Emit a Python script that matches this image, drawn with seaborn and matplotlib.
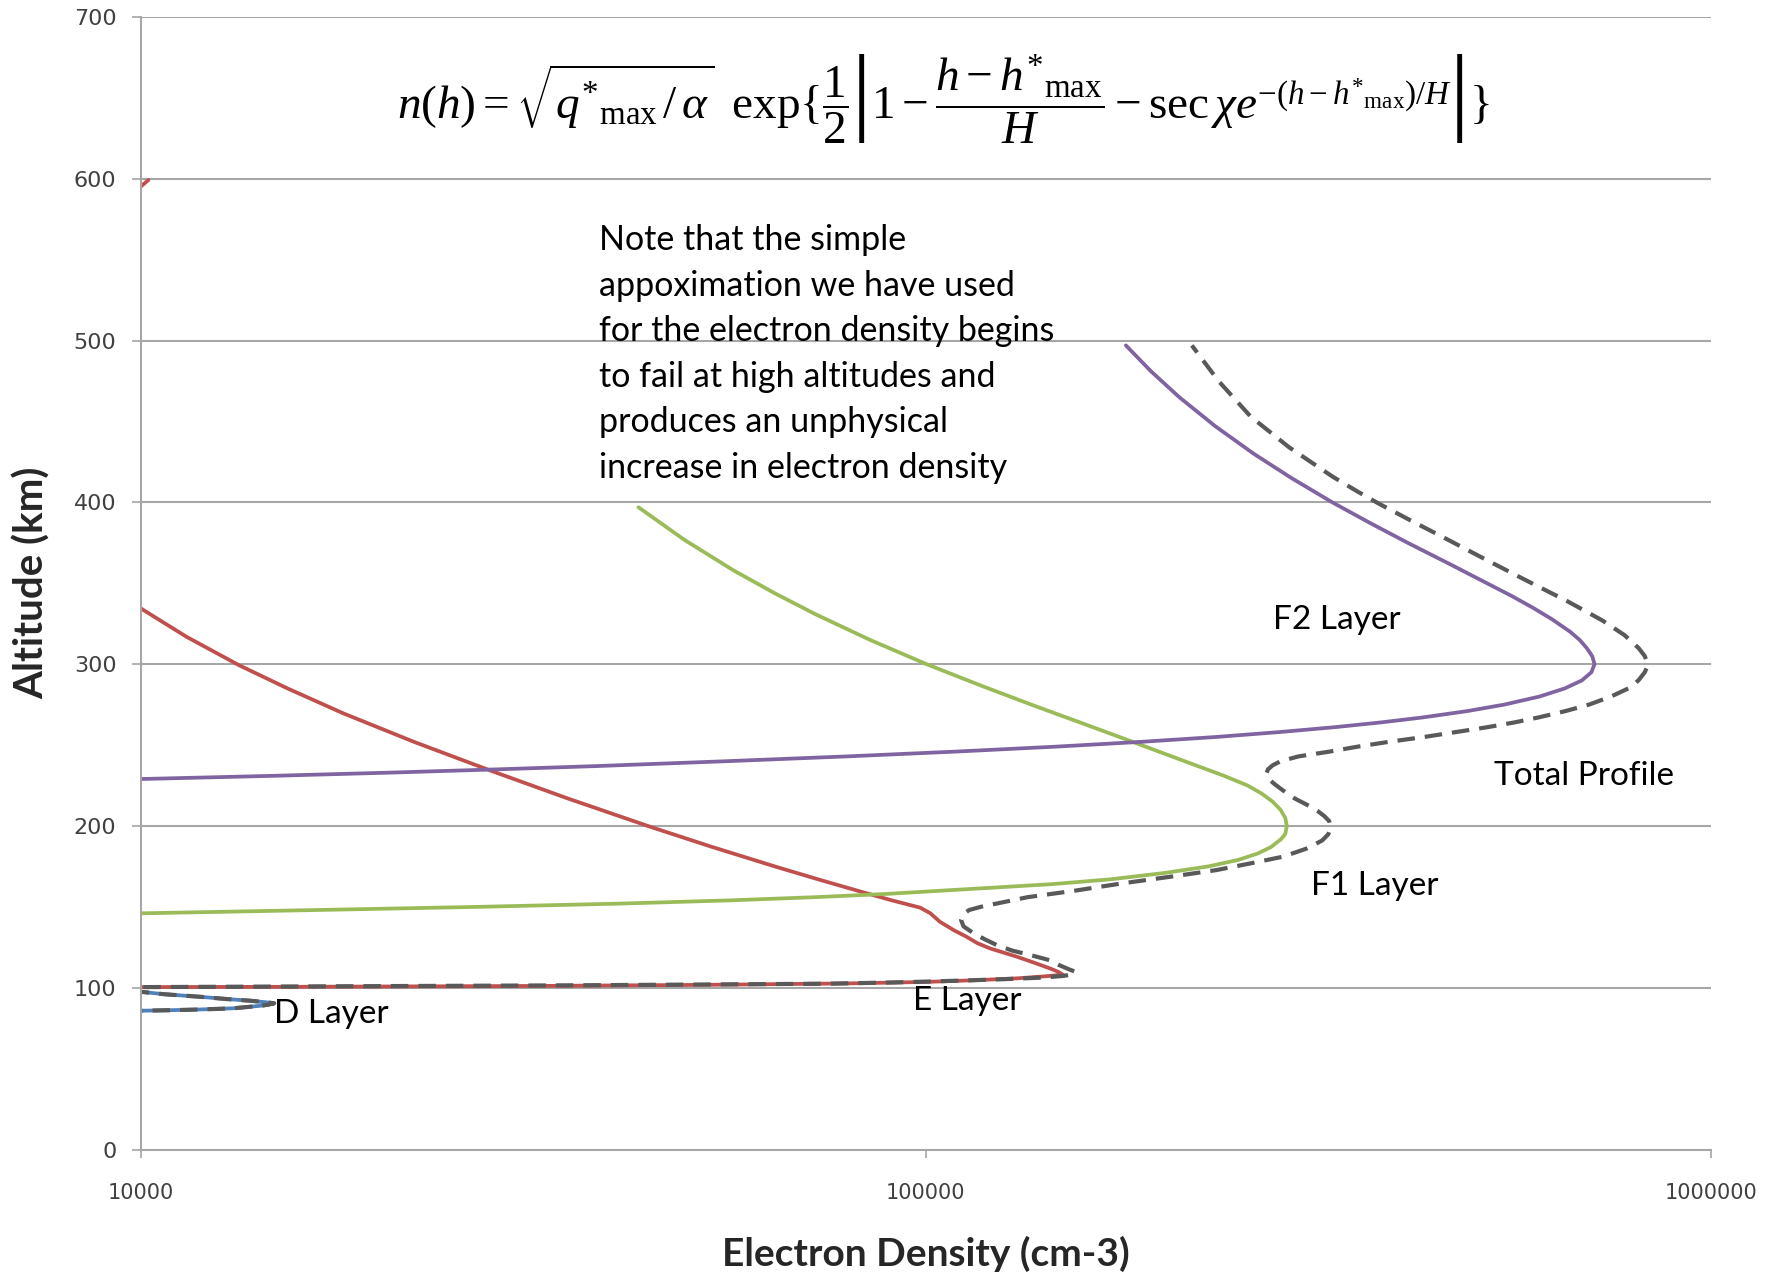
import matplotlib
matplotlib.use("Agg")
import matplotlib.pyplot as plt
import seaborn as sns
import numpy as np

# Chapman-layer electron density profiles.
# Altitudes in km; densities given as log10(n / cm^-3).
d_alt = [99.0, 97.5, 96.0, 94.4, 93.0, 92.0, 91.0, 90.4, 89.6, 89.0, 88.2, 87.3, 86.8,
         86.5, 86.1, 85.8, 85.4]
d_logn = [3.98, 4.0, 4.03, 4.076, 4.11, 4.139, 4.16, 4.17, 4.163, 4.155, 4.138, 4.118,
          4.09, 4.07, 4.035, 4.0, 3.98]

e_alt = [334.5, 317, 299.4, 285, 269.6, 252, 234.5, 217, 199.5, 187, 174.8, 167, 159.3,
         154, 149.5, 146, 140.8, 135.5, 131.5, 127.5, 124.3, 119.2, 115.5, 112, 109.8,
         108, 107.0, 105.8, 104.6, 103.6, 102.7, 101.8, 101.1, 100.6, 100.4, 100.2]
e_logn = [4.0, 4.058, 4.125, 4.187, 4.258, 4.348, 4.444, 4.544, 4.649, 4.728, 4.809,
          4.863, 4.918, 4.957, 4.993, 5.006, 5.018, 5.036, 5.052, 5.066, 5.082, 5.116,
          5.138, 5.158, 5.169, 5.175, 5.15, 5.116, 5.06, 5.0, 4.904, 4.72, 4.5, 4.2, 4.0,
          3.98]
# the E-layer approximation re-enters the plotted range near 600 km
e_high_alt = [593.5, 599.2]
e_high_logn = [3.996, 4.0097]

f1_alt = [146, 147, 148, 150, 152, 154, 156, 158, 160, 162, 164, 167, 171, 175, 179, 183,
          187, 192, 195, 200, 205, 210, 215, 220, 225, 231, 240, 253, 263, 274, 287, 300,
          315, 331, 344, 358, 377, 397]
f1_logn = [4.0, 4.11, 4.22, 4.43, 4.61, 4.75, 4.86, 4.95, 5.02, 5.09, 5.16, 5.235, 5.305,
           5.36, 5.398, 5.423, 5.44, 5.453, 5.458, 5.46, 5.458, 5.452, 5.442, 5.428,
           5.41, 5.38, 5.33, 5.258, 5.202, 5.14, 5.069, 5.001, 4.929, 4.859, 4.807,
           4.755, 4.692, 4.634]

f2_alt = [229, 231, 233, 235, 237, 240, 243, 246, 249, 252, 255, 258, 261, 264, 267, 271,
          275, 280, 285, 290, 295, 300, 305, 310, 315, 320, 328, 335, 342, 350, 362, 375,
          387, 400, 415, 430, 447, 465, 481, 497]
f2_logn = [4.0, 4.17, 4.32, 4.455, 4.58, 4.745, 4.9, 5.04, 5.165, 5.275, 5.37, 5.45, 5.52,
           5.58, 5.632, 5.69, 5.737, 5.782, 5.814, 5.836, 5.848, 5.852, 5.849, 5.842,
           5.833, 5.821, 5.797, 5.773, 5.747, 5.715, 5.667, 5.614, 5.567, 5.518, 5.466,
           5.418, 5.369, 5.323, 5.287, 5.255]

tot_alt = [85.4, 85.8, 86.1, 86.5, 86.8, 87.3, 88.2, 89.0, 89.6, 90.4, 91.0, 92.0, 93.0,
           94.4, 96.0, 97.5, 99.0, 100.4, 101.0, 101.5, 102.5, 103.3, 103.8, 104.5, 105.3,
           106.3, 107.3, 108.5, 110, 111.5, 114, 117, 120, 123, 126.5, 130, 134, 138, 142,
           145, 148, 150, 152, 156, 160, 164.5, 168.5, 172.7, 177, 181, 186, 191, 195,
           199.5, 203, 206, 209, 212, 217, 222, 226, 229, 232.5, 235, 237.5, 240, 243, 246,
           249, 252, 255, 258, 261, 264, 267, 271, 275, 280, 285, 290, 295, 299.5, 305,
           310, 318, 327, 339, 352, 365, 379, 389, 399, 407, 416, 434, 453, 475, 497]
tot_logn = [3.98, 4.0, 4.035, 4.07, 4.09, 4.118, 4.138, 4.155, 4.163, 4.17, 4.16, 4.139,
            4.11, 4.076, 4.03, 4.0, 3.99, 4.0, 4.3, 4.55, 4.875, 4.96, 5.0, 5.05, 5.1,
            5.15, 5.175, 5.19, 5.19, 5.182, 5.17, 5.158, 5.135, 5.11, 5.09, 5.075, 5.06,
            5.048, 5.045, 5.047, 5.055, 5.07, 5.09, 5.13, 5.19, 5.25, 5.31, 5.37, 5.415,
            5.455, 5.485, 5.505, 5.513, 5.516, 5.514, 5.508, 5.5, 5.49, 5.47, 5.455, 5.444,
            5.437, 5.434, 5.436, 5.442, 5.452, 5.475, 5.515, 5.55, 5.59, 5.635, 5.675,
            5.715, 5.75, 5.78, 5.815, 5.845, 5.873, 5.895, 5.908, 5.916, 5.92, 5.916,
            5.908, 5.89, 5.862, 5.817, 5.764, 5.712, 5.657, 5.617, 5.578, 5.549, 5.518,
            5.463, 5.414, 5.373, 5.339]

x_ticks = [1e4, 1e5, 1e6]
x_tick_labels = ["10000", "100000", "1000000"]
y_ticks = [0, 100, 200, 300, 400, 500, 600, 700]

note_text = ("Note that the simple\n"
             "appoximation we have used\n"
             "for the electron density begins\n"
             "to fail at high altitudes and\n"
             "produces an unphysical\n"
             "increase in electron density")


def density(logn):
    return np.power(10.0, np.asarray(logn))


sns.set_theme(style="white")
plt.rcParams["font.family"] = ["DejaVu Sans"]
# Times-like formula; large delimiters come from the Computer Modern extension font
plt.rcParams["mathtext.fontset"] = "custom"
plt.rcParams["mathtext.rm"] = "Liberation Serif"
plt.rcParams["mathtext.it"] = "Liberation Serif:italic"
plt.rcParams["mathtext.bf"] = "Liberation Serif:bold"
plt.rcParams["mathtext.fallback"] = "cm"

fig = plt.figure(figsize=(17.77, 12.76), dpi=100)
ax = fig.add_axes([0.0792, 0.0991, 0.8835, 0.8876])

grid_col = "#A6A6A6"
ax.set_xscale("log")
ax.set_xlim(1e4, 1e6)
ax.set_ylim(0, 700)
ax.set_yticks(y_ticks)
for yv in y_ticks[1:]:
    ax.axhline(yv, color=grid_col, lw=1.5, zorder=0)

lw = 2.7
series = [
    (d_logn, d_alt, "#4F81BD"),
    (e_logn, e_alt, "#C0504D"),
    (e_high_logn, e_high_alt, "#C0504D"),
    (f1_logn, f1_alt, "#9BBB59"),
    (f2_logn, f2_alt, "#8064A2"),
]
for logn, alt, col in series:
    sns.lineplot(x=density(logn), y=alt, sort=False, estimator=None, color=col, lw=lw,
                 ax=ax, solid_joinstyle="round")

sns.lineplot(x=density(tot_logn), y=tot_alt, sort=False, estimator=None, color="#595959",
             lw=3.0, ls=(0, (4.2, 2.4)), ax=ax)

ax.set_xticks(x_ticks)
ax.set_xticklabels(x_tick_labels)
ax.xaxis.set_minor_locator(matplotlib.ticker.NullLocator())
ax.tick_params(axis="x", which="major", direction="out", length=6, width=1.2,
               color=grid_col, pad=18, labelsize=15, labelcolor="#404040", bottom=True)
ax.tick_params(axis="y", direction="out", length=6.5, width=1.2, color=grid_col,
               pad=11, labelsize=16, labelcolor="#404040", left=True)

for side in ["top", "right"]:
    ax.spines[side].set_visible(False)
for side in ["left", "bottom"]:
    ax.spines[side].set_color(grid_col)
    ax.spines[side].set_linewidth(1.5)

title_font = ["Lato", "DejaVu Sans"]
ax.set_xlabel("Electron Density (cm-3)", fontsize=28, fontweight="bold",
              family=title_font, va="center")
ax.xaxis.set_label_coords(0.5, -0.0918)
ax.set_ylabel("Altitude (km)", fontsize=29, fontweight="bold",
              family=title_font, va="center")
ax.yaxis.set_label_coords(-0.0694, 0.5)

lab_font = ["Lato", "DejaVu Sans"]
lab_kw = dict(fontsize=24, family=lab_font, color="black", ha="left", va="center")
ax.text(1.479e4, 83.6, "D Layer", **lab_kw)
ax.text(9.64e4, 92.0, "E Layer", **lab_kw)
ax.text(3.10e5, 162.7, "F1 Layer", **lab_kw)
ax.text(2.77e5, 327.3, "F2 Layer", **lab_kw)
ax.text(5.29e5, 230.6, "Total Profile", **lab_kw)

ax.text(3.83e4, 572, note_text, fontsize=24.5, family=lab_font, color="black",
        ha="left", va="top", linespacing=1.52)

equation = (r"$n(h)=\sqrt{q^{*}{}_{\mathrm{max}}\,/\,\alpha}\;\;\mathrm{exp}\{\dfrac{1}{2}"
            r"\left|1-\dfrac{h-h^{*}{}_{\mathrm{max}}}{H}-\mathrm{sec}\,\chi "
            r"e^{-(h-h^{*}{}_{\mathrm{max}})/H}\right|\}$")
ax.text(0.511, 0.927, equation, transform=ax.transAxes, fontsize=34,
        ha="center", va="center", color="black")

fig.savefig("out.png", dpi=100, facecolor="white")
